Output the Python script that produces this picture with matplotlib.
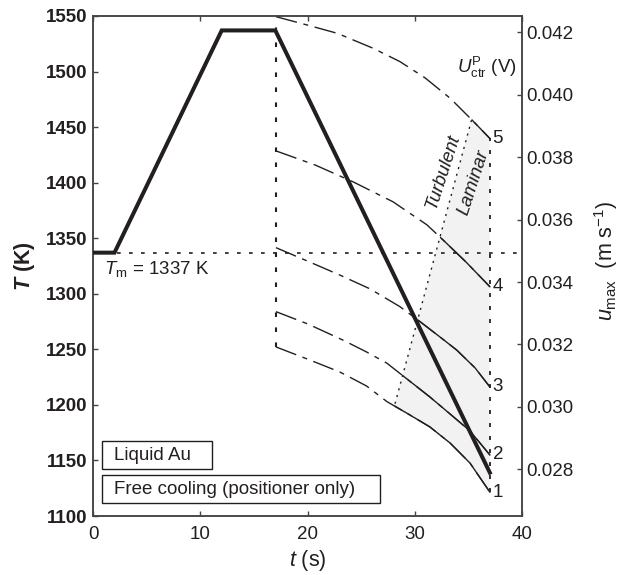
import numpy as np
import matplotlib
matplotlib.use("Agg")
import matplotlib.pyplot as plt
from matplotlib.patches import Polygon, Rectangle

plt.rcParams['font.family'] = ['Liberation Sans', 'DejaVu Sans']
plt.rcParams['mathtext.fontset'] = 'custom'
plt.rcParams['mathtext.rm'] = 'Liberation Sans'
plt.rcParams['mathtext.it'] = 'Liberation Sans:italic'
plt.rcParams['mathtext.bf'] = 'Liberation Sans:bold'
plt.rcParams['mathtext.bfit'] = 'Liberation Sans:italic:bold'

# temperature profile (left axis)
t_prof = [0, 2, 12, 17, 37]
T_prof = [1337, 1337, 1537, 1537, 1139]
T_melt = 1337

# u_max curves for U_ctr^P = 1..5 V (right axis)
x1 = [17.06, 20.0, 23.0, 25.5, 27.4, 29.4, 31.4, 33.3, 35.15, 37.0]
u1 = [0.03192, 0.03153, 0.03112, 0.03067, 0.03017, 0.02977, 0.02936, 0.02884, 0.02820, 0.02727]
x2 = [17.06, 20.0, 23.3, 25.5, 27.4, 29.4, 31.4, 33.3, 35.15, 37.0]
u2 = [0.03305, 0.03266, 0.03214, 0.03176, 0.03140, 0.03086, 0.03032, 0.02977, 0.02923, 0.02846]
x3 = [17.06, 20.0, 23.03, 25.83, 28.62, 30.49, 32.35, 33.91, 35.62, 37.0]
u3 = [0.03510, 0.03467, 0.03422, 0.03378, 0.03321, 0.03273, 0.03224, 0.03182, 0.03125, 0.03064]
x4 = [17.06, 20.7, 24.24, 27.97, 31.14, 32.63, 34.78, 37.0]
u4 = [0.03820, 0.03775, 0.03721, 0.03657, 0.03583, 0.03535, 0.03464, 0.03385]
x5 = [17.06, 20.0, 22.75, 26.1, 28.62, 30.96, 33.29, 35.34, 37.0]
u5 = [0.04250, 0.04223, 0.04197, 0.04149, 0.04106, 0.04054, 0.03989, 0.03919, 0.03860]
curves = [(x1, u1), (x2, u2), (x3, u3), (x4, u4), (x5, u5)]
curve_labels = ['1', '2', '3', '4', '5']

# turbulent / laminar boundary
turb_x = [28.16, 35.3]
turb_u = [0.0301, 0.0392]

fig = plt.figure(figsize=(6.29, 5.75), dpi=100)
ax = fig.add_axes([0.1479, 0.1026, 0.682, 0.8696])
ax2 = ax.twinx()
ax.set_zorder(ax2.get_zorder() + 1)
ax.patch.set_visible(False)

dark = '#231f20'
spine_c = '#444444'
fs = 13.5
fs_lab = 15.5
dashdot = (0, (15.6, 4.8, 3.6, 4.8))
dots = (0, (2.2, 5.0))

# region to the right of the turbulent line (used for clipping)
dx = turb_x[1] - turb_x[0]
du = turb_u[1] - turb_u[0]
clip_reg = Polygon([(turb_x[0] - 3 * dx, turb_u[0] - 3 * du),
                    (turb_x[1] + 3 * dx, turb_u[1] + 3 * du),
                    (60, turb_u[1] + 3 * du),
                    (60, turb_u[0] - 3 * du)],
                   closed=True, transform=ax2.transData)

# shaded laminar region
shade = Polygon(list(zip(x5, u5)) + list(zip(x1[::-1], u1[::-1])), closed=True,
                facecolor='#f2f2f2', edgecolor='none', zorder=1)
ax2.add_patch(shade)
shade.set_clip_path(clip_reg)

for (xs, us), lab in zip(curves, curve_labels):
    ax2.plot(xs, us, color=dark, lw=1.0, linestyle=dashdot, zorder=3)
    ln, = ax2.plot(xs, us, color=dark, lw=1.0, zorder=3)
    ln.set_clip_path(clip_reg)
    ax2.text(37.25, us[-1], lab, fontsize=fs, ha='left', va='center', color=dark)

# dotted boundaries
ax2.plot(turb_x, turb_u, color=dark, lw=1.0, linestyle=(0, (1.5, 3.5)), zorder=2)
ax2.plot([x1[-1], x5[-1]], [u1[-1], u5[-1]], color=dark, lw=1.3, linestyle=dots, zorder=2)
ax2.plot([x1[0], x5[0]], [u1[0], u5[0]], color=dark, lw=1.5, linestyle=dots, zorder=2)

# temperature
ax.axhline(T_melt, color=dark, lw=1.2, linestyle=dots, zorder=2)
ax.plot(t_prof, T_prof, color=dark, lw=2.9, solid_joinstyle='miter', zorder=5)

ax.set_xlim(0, 40)
ax.set_ylim(1100, 1550)
ax.set_xticks([0, 10, 20, 30, 40])
ax.set_yticks(np.arange(1100, 1551, 50))
ax2.set_ylim(0.026504, 0.042522)
ax2.set_yticks([0.028, 0.030, 0.032, 0.034, 0.036, 0.038, 0.040, 0.042])
ax2.set_yticklabels(['0.028', '0.030', '0.032', '0.034', '0.036', '0.038', '0.040', '0.042'])

ax.tick_params(axis='both', direction='in', length=3.6, width=1, color=spine_c,
               labelsize=fs, top=True, right=False, colors=dark)
ax.tick_params(axis='x', pad=7)
ax.tick_params(axis='y', pad=4.3)
ax2.tick_params(axis='y', direction='in', length=3.6, width=1, color=spine_c,
                labelsize=fs, pad=3.4, labelcolor=dark)
for lbl in ax.get_yticklabels():
    lbl.set_fontweight('bold')
for a in (ax, ax2):
    for s in a.spines.values():
        s.set_color(spine_c)
        s.set_linewidth(1.1)

ax.set_xlabel(r'$t$ (s)', fontsize=fs_lab, color=dark)
ax.xaxis.set_label_coords(0.5, -0.064)
ax.set_ylabel(r'$\mathbfit{T}$ (K)', fontsize=fs_lab, fontweight='bold', color=dark)
ax.yaxis.set_label_coords(-0.13, 0.5)
ax2.set_ylabel(r'$u_{\mathrm{max}}$  (m s$^{-1}$)', fontsize=fs_lab, color=dark)
ax2.yaxis.set_label_coords(1.164, 0.51)

ax.text(0.0256, 0.484, r'$T_{\mathrm{m}}$ = 1337 K', transform=ax.transAxes,
        fontsize=fs, ha='left', va='baseline', color=dark)
ax.text(0.988, 0.898, r'$U^{\mathrm{P}}_{\mathrm{ctr}}$ (V)', transform=ax.transAxes,
        fontsize=fs, ha='right', va='center', color=dark)
ax.text(0.816, 0.688, 'Turbulent', transform=ax.transAxes, fontsize=fs, style='italic',
        rotation=72, ha='center', va='center', color=dark)
ax.text(0.886, 0.666, 'Laminar', transform=ax.transAxes, fontsize=fs, style='italic',
        rotation=72, ha='center', va='center', color=dark)

# label boxes
ax.add_patch(Rectangle((0.0217, 0.0934), 0.255, 0.0566, transform=ax.transAxes,
                       facecolor='white', edgecolor=dark, lw=1.0, zorder=6))
ax.text(0.049, 0.1217, 'Liquid Au', transform=ax.transAxes, fontsize=fs,
        ha='left', va='center', color=dark, zorder=7)
ax.add_patch(Rectangle((0.0217, 0.026), 0.647, 0.056, transform=ax.transAxes,
                       facecolor='white', edgecolor=dark, lw=1.0, zorder=6))
ax.text(0.049, 0.054, 'Free cooling (positioner only)', transform=ax.transAxes,
        fontsize=fs, ha='left', va='center', color=dark, zorder=7)

fig.savefig('out.png', dpi=100)
